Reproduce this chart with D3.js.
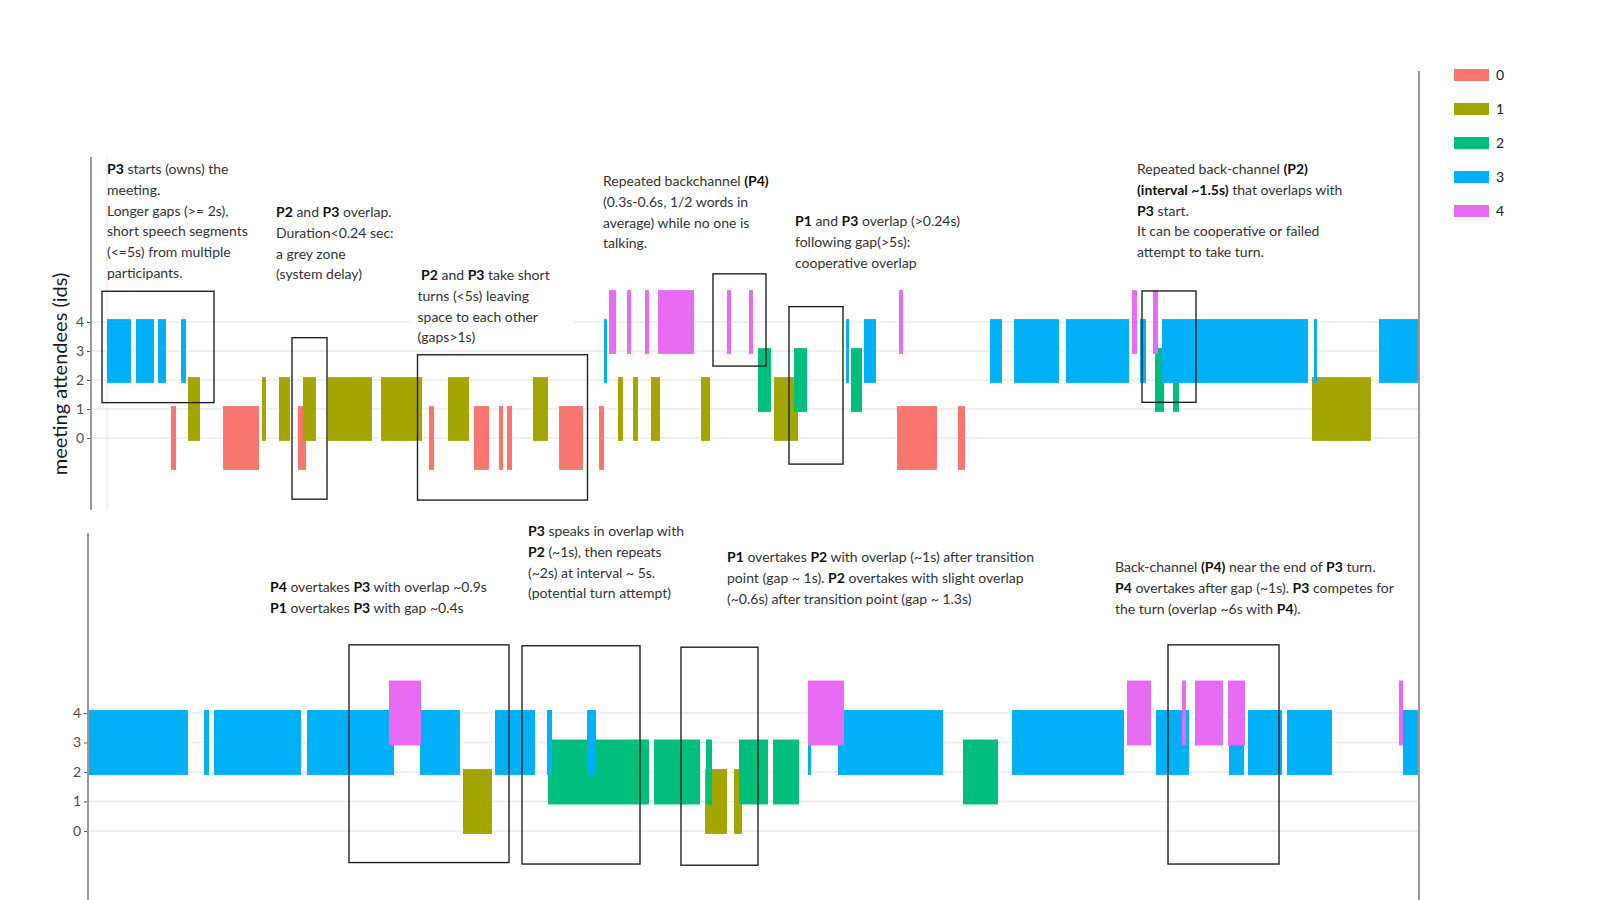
<!DOCTYPE html>
<html>
<head>
<meta charset="utf-8">
<script src="https://cdn.jsdelivr.net/npm/d3@7"></script>
<style>
  body { margin: 0; background: #fff; }
  text { font-family: "Segoe UI", Lato, "Open Sans", sans-serif; }
</style>
</head>
<body>
<div id="chart"></div>
<script>
// speaker ids and their colours
const ids = [0, 1, 2, 3, 4];
const colors = ["#F8766D", "#A3A500", "#00BF7D", "#00B0F6", "#E76BF3"];
const yTicks = [0, 1, 2, 3, 4];

// speech segments [start, end] in seconds, first half of the meeting
const topP0 = [[6.4, 6.9], [11.6, 15.2], [19.1, 19.9], [32.2, 32.7], [36.7, 38.2], [39.2, 39.6],
  [40.0, 40.5], [45.2, 47.6], [49.2, 49.7], [79.0, 83.0], [85.1, 85.8]];
const topP1 = [[8.1, 9.3], [15.5, 15.9], [17.2, 18.3], [19.6, 20.9], [22.1, 26.5], [27.4, 31.5],
  [34.1, 36.2], [42.6, 44.1], [51.1, 51.6], [52.6, 53.1], [54.4, 55.3], [59.4, 60.3],
  [66.7, 69.1], [120.5, 126.4]];
const topP2 = [[65.1, 66.4], [68.7, 70.0], [74.4, 75.5], [104.8, 105.7], [106.6, 107.2]];
const topP3 = [[0.0, 2.4], [2.9, 4.7], [5.1, 5.9], [7.4, 7.9], [49.7, 50.0], [73.9, 74.2],
  [75.7, 76.9], [88.3, 89.5], [90.7, 95.2], [95.9, 102.2], [103.3, 103.9], [105.5, 120.1],
  [120.7, 121.0], [127.2, 131.2]];
const topP4 = [[50.2, 50.9], [52.0, 52.4], [53.8, 54.2], [55.1, 58.7], [62.0, 62.4], [64.2, 64.6],
  [79.2, 79.6], [102.5, 103.0], [104.6, 105.1]];

// second half of the meeting
const botP0 = [];
const botP1 = [[168.7, 171.6], [192.9, 195.1], [195.8, 196.6]];
const botP2 = [[177.2, 187.3], [187.8, 192.4], [193.0, 193.6], [196.3, 199.2], [199.7, 202.3],
  [218.7, 222.2]];
const botP3 = [[131.2, 141.2], [142.8, 143.3], [143.8, 152.5], [153.1, 161.8], [164.4, 168.4],
  [171.9, 175.9], [177.1, 177.6], [181.1, 182.0], [203.2, 203.5], [206.2, 216.7],
  [223.6, 234.8], [238.0, 241.3], [245.3, 246.8], [247.2, 250.6], [251.1, 255.6], [262.7, 264.3]];
const botP4 = [[161.3, 164.5], [203.2, 206.8], [235.1, 237.5], [240.6, 241.0], [241.9, 244.7],
  [245.2, 246.9], [262.3, 262.7]];

// highlight boxes [t0, t1, idTop, idBottom]
const topBoxes = [[-0.5, 10.7, 5.06, 1.22], [18.5, 22.0, 3.46, -2.11], [31.05, 48.05, 2.87, -2.14],
  [60.6, 65.9, 5.66, 2.48], [68.2, 73.6, 4.53, -0.9], [103.5, 108.9, 5.07, 1.23]];
const botBoxes = [[157.3, 173.3, 6.31, -1.07], [174.6, 186.4, 6.28, -1.12],
  [190.5, 198.2, 6.23, -1.16], [239.2, 250.3, 6.31, -1.12]];

// notes: t = left edge (seconds), y = first line centre
const topNotes = [
  { t: 0.0, y: 169, lines: ["**P3** starts (owns) the", "meeting.", "Longer gaps (>= 2s),",
    "short speech segments", "(<=5s) from multiple", "participants."] },
  { t: 16.9, y: 212, lines: ["**P2** and **P3** overlap.", "Duration<0.24 sec:", "a grey zone", "(system delay)"] },
  { t: 31.05, y: 275, bg: true, lines: ["\u00a0**P2** and **P3** take short", "turns (<5s) leaving",
    "space to each other", "(gaps>1s)"] },
  { t: 49.6, y: 181, lines: ["Repeated backchannel **(P4)**", "(0.3s-0.6s, 1/2 words in",
    "average) while no one is", "talking."] },
  { t: 68.8, y: 221, lines: ["**P1** and **P3** overlap (>0.24s)", "following gap(>5s):", "cooperative overlap"] },
  { t: 103.0, y: 169, lines: ["Repeated back-channel **(P2)**", "**(interval ~1.5s)** that overlaps with",
    "**P3** start.", "It can be cooperative or failed", "attempt to take turn."] }
];
const botNotes = [
  { t: 149.4, y: 587, lines: ["**P4** overtakes **P3** with overlap ~0.9s", "**P1** overtakes **P3** with gap ~0.4s"] },
  { t: 175.2, y: 531, lines: ["**P3** speaks in overlap with", "**P2** (~1s), then repeats",
    "(~2s) at interval ~ 5s.", "(potential turn attempt)"] },
  { t: 195.1, y: 557, lines: ["**P1** overtakes **P2** with overlap (~1s) after transition",
    "point (gap ~ 1s). **P2** overtakes with slight overlap",
    "(~0.6s) after transition point (gap ~ 1.3s)"] },
  { t: 233.9, y: 567, lines: ["Back-channel **(P4)** near the end of **P3** turn.",
    "**P4** overtakes after gap (~1s). **P3** competes for", "the turn (overlap ~6s with **P4**)."] }
];

const width = 1600, height = 900;
const rightEdge = 1419;
const half = 1.1;

const svg = d3.select("#chart").append("svg")
    .attr("width", width)
    .attr("height", height)
    .style("background", "#fff");

function panel(cfg) {
    const x = d3.scaleLinear().domain(cfg.xDomain).range([cfg.x0, rightEdge]);
    const y = d3.scaleLinear().domain([0, 4]).range(cfg.yRange);
    const g = svg.append("g");

    // grid
    g.selectAll("line.grid").data(yTicks).enter().append("line")
        .attr("x1", cfg.axisX).attr("x2", rightEdge)
        .attr("y1", d => y(d)).attr("y2", d => y(d))
        .attr("stroke", "#ebebeb").attr("stroke-width", 1.3);
    if (cfg.vGrid) {
        g.append("line")
            .attr("x1", x(cfg.xDomain[0])).attr("x2", x(cfg.xDomain[0]))
            .attr("y1", cfg.axisTop).attr("y2", cfg.axisBottom)
            .attr("stroke", "#ebebeb").attr("stroke-width", 1.3);
    }

    // speech bars, drawn in id order
    cfg.series.forEach((segs, id) => {
        g.selectAll(null).data(segs).enter().append("rect")
            .attr("x", d => x(d[0]))
            .attr("width", d => x(d[1]) - x(d[0]))
            .attr("y", y(id + half))
            .attr("height", y(id - half) - y(id + half))
            .attr("fill", colors[id]);
    });

    // notes
    cfg.notes.forEach(n => {
        const t = g.append("text")
            .attr("x", x(n.t))
            .attr("font-size", 14)
            .attr("fill", "#333");
        n.lines.forEach((line, i) => {
            const parts = line.split("**");
            parts.forEach((p, j) => {
                if (!p) return;
                const ts = t.append("tspan").text(p)
                    .attr("font-weight", j % 2 ? "bold" : null)
                    .attr("fill", j % 2 ? "#111" : null);
                if (j === 0 || (j === 1 && !parts[0])) {
                    ts.attr("x", x(n.t)).attr("y", n.y + i * 20.8 + 5);
                }
            });
        });
        if (n.bg) {
            const b = t.node().getBBox();
            g.insert("rect", function () { return t.node(); })
                .attr("x", b.x - 6).attr("y", b.y - 3)
                .attr("width", b.width + 30).attr("height", b.height + 6)
                .attr("fill", "#fff");
        }
    });

    // highlight boxes
    g.selectAll("rect.box").data(cfg.boxes).enter().append("rect")
        .attr("x", d => x(d[0]))
        .attr("width", d => x(d[1]) - x(d[0]))
        .attr("y", d => y(d[2]))
        .attr("height", d => y(d[3]) - y(d[2]))
        .attr("fill", "none")
        .attr("stroke", "#222")
        .attr("stroke-width", 1.4);

    // y axis
    const ax = g.append("g")
        .attr("transform", `translate(${cfg.axisX},0)`)
        .call(d3.axisLeft(y).tickValues(yTicks).tickSize(4).tickPadding(3).tickFormat(d3.format("d")));
    ax.select(".domain").remove();
    ax.selectAll(".tick line").attr("stroke", "#555");
    ax.selectAll(".tick text").attr("fill", "#4d4d4d").attr("font-size", 14)
        .style("font-family", '"Segoe UI", Lato, sans-serif');
    g.append("line")
        .attr("x1", cfg.axisX).attr("x2", cfg.axisX)
        .attr("y1", cfg.axisTop).attr("y2", cfg.axisBottom)
        .attr("stroke", "#9a9a9a").attr("stroke-width", 2);

    return { x, y };
}

panel({
    xDomain: [0, 131.2], x0: 107, yRange: [438, 322],
    axisX: 91, axisTop: 157, axisBottom: 510, vGrid: true,
    series: [topP0, topP1, topP2, topP3, topP4],
    boxes: topBoxes, notes: topNotes
});

panel({
    xDomain: [131.2, 264.3], x0: 88, yRange: [831, 713],
    axisX: 88, axisTop: 533, axisBottom: 900, vGrid: false,
    series: [botP0, botP1, botP2, botP3, botP4],
    boxes: botBoxes, notes: botNotes
});

// y axis title
svg.append("text")
    .attr("transform", "translate(67,374) rotate(-90)")
    .attr("text-anchor", "middle")
    .attr("font-size", 20)
    .attr("fill", "#1a1a1a")
    .text("meeting attendees (ids)");

// right frame line
svg.append("line")
    .attr("x1", rightEdge).attr("x2", rightEdge)
    .attr("y1", 71).attr("y2", height)
    .attr("stroke", "#9a9a9a").attr("stroke-width", 2);

// legend
const legend = svg.append("g").attr("transform", "translate(1454,75)");
const items = legend.selectAll("g").data(ids).enter().append("g")
    .attr("transform", (d, i) => `translate(0,${i * 34})`);
items.append("rect")
    .attr("x", 0).attr("y", -6).attr("width", 35).attr("height", 12)
    .attr("fill", d => colors[d]);
items.append("text")
    .attr("x", 42).attr("dy", "0.35em")
    .attr("font-size", 14)
    .attr("fill", "#1a1a1a")
    .text(d => d);
</script>
</body>
</html>
